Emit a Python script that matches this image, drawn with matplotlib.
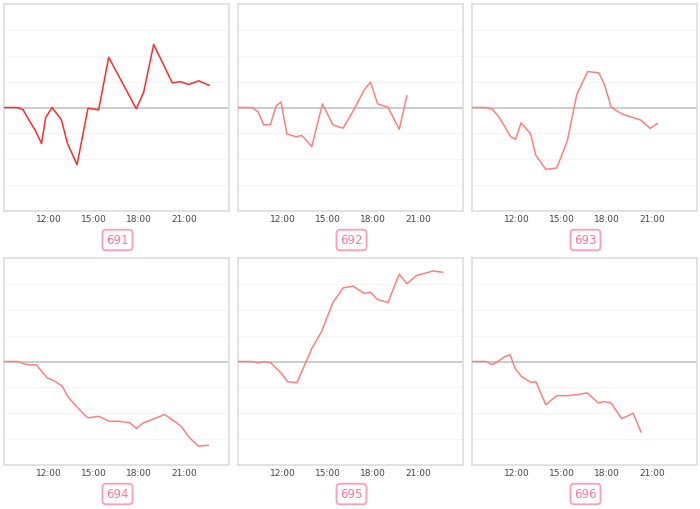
import matplotlib
matplotlib.use("Agg")
import matplotlib.pyplot as plt

# hours of the day (decimal) and values
names = ["691", "692", "693", "694", "695", "696"]

hours_691 = [9.0, 9.87, 10.27, 10.67, 11.1, 11.5, 11.78, 12.2, 12.82, 13.22, 13.87,
             14.6, 15.31, 15.98, 17.82, 18.31, 18.98, 20.22, 20.76, 21.31, 21.98, 22.67]
vals_691 = [0, 0, -0.08, -0.49, -0.9, -1.39, -0.39, 0, -0.46, -1.37, -2.21,
            -0.03, -0.09, 1.94, -0.05, 0.59, 2.44, 0.95, 1.0, 0.89, 1.03, 0.86]

hours_692 = [9.0, 9.95, 10.34, 10.72, 11.16, 11.54, 11.87, 12.26, 12.86, 13.26, 13.92,
             14.63, 15.33, 16.0, 16.72, 17.39, 17.83, 18.31, 19.0, 19.75, 20.26]
vals_692 = [0, 0, -0.17, -0.67, -0.66, 0.06, 0.21, -1.02, -1.13, -1.08, -1.51,
            0.14, -0.67, -0.8, -0.09, 0.66, 0.98, 0.14, 0.01, -0.84, 0.45]

hours_693 = [9.0, 9.94, 10.34, 10.74, 11.16, 11.56, 11.91, 12.27, 12.91, 13.24, 13.92,
             14.65, 15.36, 15.98, 16.71, 17.46, 17.83, 18.28, 18.99, 19.59, 20.27, 20.87, 21.36]
vals_693 = [0, 0, -0.06, -0.32, -0.71, -1.12, -1.23, -0.59, -1.02, -1.83, -2.39,
            -2.34, -1.28, 0.49, 1.39, 1.34, 0.89, 0.01, -0.25, -0.36, -0.49, -0.81, -0.62]

hours_694 = [9.0, 9.92, 10.32, 10.72, 11.16, 11.87, 12.31, 12.88, 13.26, 13.9, 14.58,
             15.31, 16.01, 16.66, 17.39, 17.83, 18.27, 18.98, 19.7, 20.32, 20.83, 21.32, 21.96, 22.62]
vals_694 = [0, 0, -0.09, -0.13, -0.13, -0.63, -0.73, -0.95, -1.36, -1.78, -2.18,
            -2.12, -2.31, -2.31, -2.37, -2.59, -2.38, -2.22, -2.05, -2.29, -2.51, -2.92, -3.27, -3.24]

hours_695 = [9.0, 9.95, 10.34, 10.72, 11.16, 11.87, 12.31, 12.93, 13.92, 14.58, 15.33,
             16.02, 16.68, 17.41, 17.83, 18.29, 19.0, 19.75, 20.26, 20.92, 21.43, 21.98, 22.64]
vals_695 = [0, 0, -0.05, -0.01, -0.04, -0.44, -0.78, -0.82, 0.5, 1.17, 2.28,
            2.85, 2.91, 2.63, 2.68, 2.4, 2.28, 3.38, 3.01, 3.33, 3.4, 3.5, 3.45]

hours_696 = [9.0, 9.95, 10.34, 10.72, 11.16, 11.54, 11.87, 12.26, 12.93, 13.26, 13.92,
             14.65, 15.36, 16.02, 16.68, 17.41, 17.83, 18.27, 18.98, 19.75, 20.26]
vals_696 = [0, 0, -0.12, 0, 0.18, 0.26, -0.26, -0.56, -0.81, -0.78, -1.67,
            -1.32, -1.32, -1.28, -1.21, -1.6, -1.55, -1.6, -2.21, -2.0, -2.72]

all_hours = [hours_691, hours_692, hours_693, hours_694, hours_695, hours_696]
all_vals = [vals_691, vals_692, vals_693, vals_694, vals_695, vals_696]
line_colors = ["#ff2a2a", "#ff7f7f", "#ff7f7f", "#ff7f7f", "#ff7f7f", "#ff7f7f"]

tick_hours = [12, 15, 18, 21]
tick_labels = ["12:00", "15:00", "18:00", "21:00"]

W, H = 700, 509
fig = plt.figure(figsize=(W / 100, H / 100), dpi=100)

col_left = [4, 238, 472]
row_top = [4, 258]
ax_w, ax_h = 225, 207

for i in range(6):
    r, c = divmod(i, 3)
    left = col_left[c] / W
    bottom = 1 - (row_top[r] + ax_h) / H
    ax = fig.add_axes([left, bottom, ax_w / W, ax_h / H])
    ax.set_xlim(9, 24)
    ax.set_ylim(-4, 4)
    for g in range(-3, 4):
        if g == 0:
            continue
        ax.axhline(g, color="#f4f4f4", lw=0.8, zorder=1)
    ax.axhline(0, color="#c8c8c8", lw=1.3, zorder=2)
    ax.plot(all_hours[i], all_vals[i], color=line_colors[i], lw=1.1, zorder=3)
    ax.set_yticks([])
    ax.set_xticks(tick_hours)
    ax.set_xticklabels(tick_labels, fontsize=6.5, color="#444444")
    ax.tick_params(axis="x", length=0, pad=3)
    for s in ax.spines.values():
        s.set_color("#dddddd")
        s.set_linewidth(1.2)

    # label box under each panel
    cx = (col_left[c] + ax_w / 2 + 1) / W
    cy = 1 - (row_top[r] + ax_h + 29) / H
    fig.text(cx, cy, names[i], ha="center", va="center", fontsize=8.5,
             color="#ff7399",
             bbox=dict(boxstyle="round,pad=0.32,rounding_size=0.3",
                       fc="white", ec="#ff9cb8", lw=1.3))

fig.savefig("out.png", dpi=100)
